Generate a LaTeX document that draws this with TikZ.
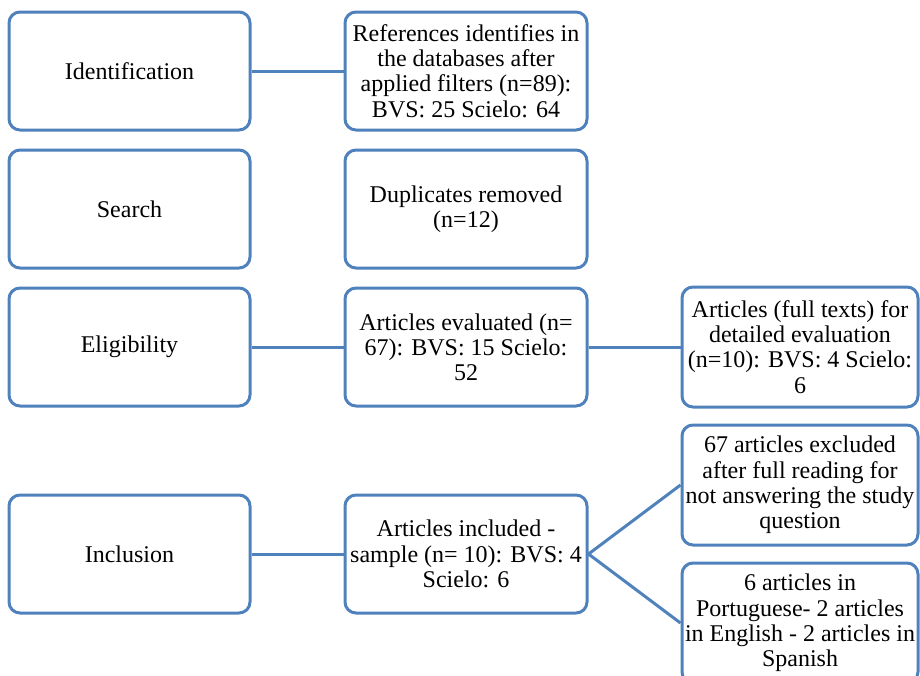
\documentclass[tikz,border=0pt]{standalone}
\usepackage{fontspec}
\setmainfont{Liberation Serif}
\newlength\pxu
\setlength\pxu{0.75pt}
\definecolor{boxblue}{RGB}{79,129,189}
\begin{document}
\begin{tikzpicture}[x=0.75pt,y=-0.75pt,
  box/.style={draw=boxblue, line width=3\pxu, rounded corners=11\pxu, fill=white,
    align=center, inner sep=2pt, text=black,
    font=\fontsize{18}{18.9}\selectfont},
  lbox/.style={box, minimum width=241\pxu, minimum height=118\pxu},
  mbox/.style={box, minimum width=242\pxu, minimum height=118\pxu},
  rbox/.style={box, minimum width=236\pxu, minimum height=120\pxu},
  link/.style={draw=boxblue, line width=3\pxu}]
\useasboundingbox (0,0) rectangle (920,675);
\clip (0,0) rectangle (920,675);
% left column
\node[lbox] (ident) at (129.5,71) {Identification};
\node[lbox] (search) at (129.5,209) {Search};
\node[lbox] (elig) at (129.5,347) {Eligibility};
\node[lbox] (incl) at (129.5,554) {Inclusion};
% middle column
\node[mbox] (refs) at (466,71) {References identifies in\\the databases after\\applied filters (n=89):\\BVS: 25 Scielo: 64};
\node[mbox] (dup) at (466,209) {Duplicates removed\\(n=12)};
\node[mbox] (eval) at (466,347) {Articles evaluated (n=\\67): BVS: 15 Scielo:\\52};
\node[mbox] (inc) at (466,554) {Articles included -\\sample (n= 10): BVS: 4\\Scielo: 6};
% right column
\node[rbox] (full) at (800,347) {Articles (full texts) for\\detailed evaluation\\(n=10): BVS: 4 Scielo:\\6};
\node[rbox] (excl) at (800,485) {67 articles excluded\\after full reading for\\not answering the study\\question};
\node[rbox] (lang) at (800,623) {6 articles in\\Portuguese- 2 articles\\in English - 2 articles in\\Spanish};
% connectors
\draw[link] (ident.east) -- (refs.west);
\draw[link] (elig.east) -- (eval.west);
\draw[link] (eval.east) -- (full.west);
\draw[link] (incl.east) -- (inc.west);
\draw[link] (inc.east) -- (excl.west);
\draw[link] (inc.east) -- (lang.west);
\end{tikzpicture}
\end{document}
